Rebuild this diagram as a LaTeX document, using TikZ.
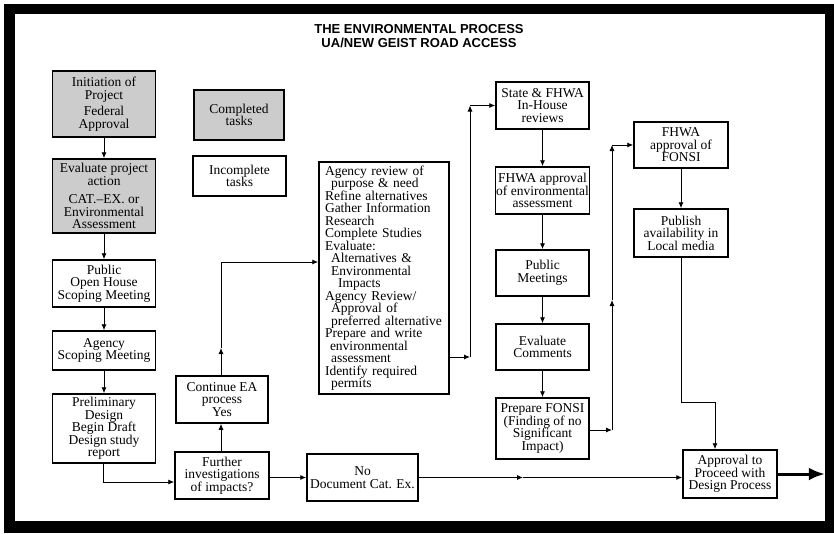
\documentclass[tikz,border=0pt]{standalone}
\usepackage{fontspec}
\setmainfont{Liberation Serif}
\newfontfamily\titlefont{Liberation Sans}
\usepackage{tikz}
\usetikzlibrary{arrows.meta, positioning}
\newcommand{\boxfont}{\fontsize{13.5}{12.5}\selectfont}
\tikzset{
  envbox/.style={rectangle, draw=black, line width=1.5pt, inner sep=0pt,
                 align=center, font=\boxfont},
  donebox/.style={envbox, fill=gray!40},
  todobox/.style={envbox, fill=white},
  envarrow/.style={-{Latex[length=6pt,width=5pt]}, line width=0.9pt},
  bigarrow/.style={-{Latex[length=16pt,width=13pt]}, line width=3pt},
  titletext/.style={anchor=base, font=\titlefont\bfseries\fontsize{13}{14}\selectfont},
}

\begin{document}
\begin{tikzpicture}[x=1pt, y=-1pt]
  \useasboundingbox (0,0) rectangle (834,533);
  % Rahmen
  \fill[black] (4,4) rectangle (834,533);
  \fill[white] (15,14) rectangle (825,521);
  % Titel
  \node[titletext] (title1) at (419,33) {THE ENVIRONMENTAL PROCESS};
  \node[titletext] (title2) at (419,47.5) {UA/NEW GEIST ROAD ACCESS};
  % Linke Spalte
  \node[donebox, minimum width=103pt, minimum height=66pt] (init) at (104,104)
    {Initiation of\\ Project\\[4pt] Federal\\ Approval};
  \node[donebox, minimum width=103pt, minimum height=74pt] (evalproj) at (104,196)
    {Evaluate project\\ action\\[6pt] CAT.--EX. or\\ Environmental\\ Assessment};
  \node[todobox, minimum width=103pt, minimum height=47pt] (openhouse) at (104,283.5)
    {Public\\ Open House\\ Scoping Meeting};
  \node[todobox, minimum width=103pt, minimum height=39pt] (agency) at (104,350.5)
    {Agency\\ Scoping Meeting};
  \node[todobox, minimum width=103pt, minimum height=69pt] (prelim) at (104,428.5)
    {Preliminary\\ Design\\ Begin Draft\\ Design study\\ report};
  % Legende
  \node[donebox, minimum width=90pt, minimum height=50pt] (completed) at (239,115)
    {Completed\\ tasks};
  \node[todobox, minimum width=93pt, minimum height=40pt] (incomplete) at (239.5,176)
    {Incomplete\\ tasks};
  % Mitte
  \node[todobox, minimum width=92pt, minimum height=47pt] (contea) at (222,399.5)
    {Continue EA\\ process\\ Yes};
  \node[todobox, minimum width=94pt, minimum height=47pt] (further) at (222,475.5)
    {Further\\ investigations\\ of impacts?};
  \node[todobox, minimum width=111pt, minimum height=47pt] (nodoc) at (362.5,477.5)
    {No\\ Document Cat. Ex.};
  \node[todobox, text width=118pt, inner xsep=6pt, minimum height=232pt,
        align=left] (study) at (384,278)
    {Agency review of\\
     \hspace*{6pt}purpose \& need\\
     Refine alternatives\\
     Gather Information\\
     Research\\
     Complete Studies\\
     Evaluate:\\
     \hspace*{6pt}Alternatives \&\\
     \hspace*{6pt}Environmental\\
     \hspace*{13pt}Impacts\\
     Agency Review/\\
     \hspace*{6pt}Approval of\\
     \hspace*{6pt}preferred alternative\\
     Prepare and write\\
     \hspace*{5pt}environmental\\
     \hspace*{6pt}assessment\\
     Identify required\\
     \hspace*{6pt}permits};
  % Rechte Spalten
  \node[todobox, minimum width=93pt, minimum height=47pt] (state) at (542.5,105.5)
    {State \& FHWA\\ In-House\\ reviews};
  \node[todobox, minimum width=94pt, minimum height=47pt] (fhwaenv) at (542.5,190.5)
    {FHWA approval\\ of environmental\\ assessment};
  \node[todobox, minimum width=93pt, minimum height=46pt] (pubmeet) at (542.5,273)
    {Public\\ Meetings};
  \node[todobox, minimum width=93pt, minimum height=46pt] (evalcom) at (542.5,347)
    {Evaluate\\ Comments};
  \node[todobox, minimum width=93pt, minimum height=61pt] (fonsi) at (542.5,428.5)
    {Prepare FONSI\\ (Finding of no\\ Significant\\ Impact)};
  \node[todobox, minimum width=94pt, minimum height=46pt] (fhwafonsi) at (681,145)
    {FHWA\\ approval of\\ FONSI};
  \node[todobox, minimum width=94pt, minimum height=48pt] (publish) at (681,233)
    {Publish\\ availability in\\ Local media};
  \node[todobox, minimum width=94pt, minimum height=48pt] (approval) at (730,474)
    {Approval to\\ Proceed with\\ Design Process};
  % Knickpunkte
  \coordinate (eamid) at (221,348);
  \coordinate (studyturn) at (470,357);
  \coordinate (fonsiturn) at (612,430);
  \coordinate (fonsimid) at (612,300);
  \coordinate (nodocmid) at (523,477.5);
  % Pfeile linke Spalte
  \draw[envarrow] (init) -- (evalproj);
  \draw[envarrow] (evalproj) -- (openhouse);
  \draw[envarrow] (openhouse) -- (agency);
  \draw[envarrow] (agency) -- (prelim);
  \draw[envarrow] ([xshift=-1pt]prelim.south) |- ([yshift=-6.5pt]further.west);
  % Pfeile Mitte
  \draw[envarrow] ([xshift=-1pt]further.north) -- ([xshift=-1pt]contea.south);
  \draw[envarrow] ([xshift=-1pt]contea.north) -- (eamid);
  \draw[envarrow] (eamid) |- ([yshift=16pt]study.west);
  \draw[envarrow] (further.east |- nodoc.west) -- (nodoc.west);
  \draw[envarrow] (nodoc.east) -- (nodocmid);
  \draw[envarrow] (nodocmid) -- (nodocmid -| approval.west);
  \draw[envarrow] (study.east |- studyturn) -- (studyturn);
  \draw[envarrow] (studyturn) -- (studyturn |- state.west);
  \draw[envarrow] (studyturn |- state.west) -- (state.west);
  % Pfeile rechts
  \draw[envarrow] (state) -- (fhwaenv);
  \draw[envarrow] (fhwaenv) -- (pubmeet);
  \draw[envarrow] (pubmeet) -- (evalcom);
  \draw[envarrow] (evalcom) -- (fonsi);
  \draw[envarrow] (fonsi.east |- fonsiturn) -- (fonsiturn);
  \draw[envarrow] (fonsiturn) -- (fonsimid);
  \draw[envarrow] (fonsimid) -- (fonsiturn |- fhwafonsi.west);
  \draw[envarrow] (fonsiturn |- fhwafonsi.west) -- (fhwafonsi.west);
  \draw[envarrow] (fhwafonsi) -- (publish);
  \draw[envarrow] (publish.south) -- ++(0,145) -| ([xshift=-15pt]approval.north);
  \draw[bigarrow] (approval.east) -- ++(47,0);
\end{tikzpicture}
\end{document}
